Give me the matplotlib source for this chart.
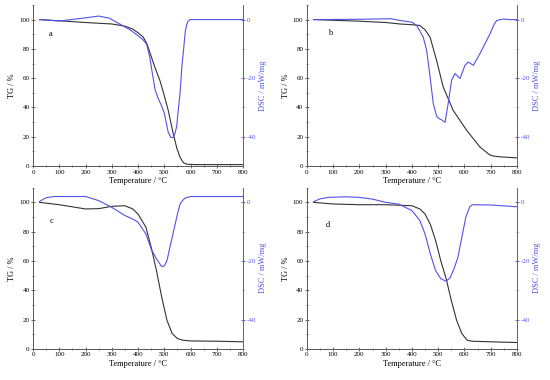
import numpy as np
import matplotlib.pyplot as plt
from matplotlib.ticker import MultipleLocator

plt.rcParams['font.family'] = ['Liberation Serif', 'DejaVu Serif']

# panel a
a_tg_t = [25, 100, 200, 300, 350, 380, 400, 420, 435, 446, 465, 484, 500, 515, 534, 548, 560,
          568, 575, 582, 590, 620, 800]
a_tg = [100, 99.2, 98, 97, 95.5, 93.5, 91, 88, 83, 77, 67, 58, 48, 38, 22, 12, 6, 3.5, 2, 1.5,
        1.2, 1, 1]
a_dsc_t = [25, 100, 200, 250, 290, 330, 370, 400, 420, 433, 445, 452, 465, 477, 490, 500, 515,
           525, 534, 540, 547, 553, 560, 567, 573, 580, 585, 590, 597, 800]
a_dsc = [0, -0.5, 0.6, 1.2, 0.5, -1.5, -3.5, -5.5, -7, -8.5, -13, -17, -24, -27, -29.5, -32, -38.5,
         -40.2, -40.3, -39, -36.5, -31, -25, -16, -10.5, -4, -1.8, -0.6, 0, 0]

# panel b
b_tg_t = [25, 200, 300, 354, 400, 430, 450, 469, 494, 519, 557, 608, 659, 697, 715, 735, 800]
b_tg = [100, 98.9, 98, 97, 96.5, 96, 93, 88, 72, 54, 38, 24.5, 13, 7.5, 6.7, 6.3, 5.6]
b_dsc_t = [25, 200, 320, 354, 400, 418, 443, 456, 469, 481, 494, 503, 513, 526, 538, 551, 564,
           583, 602, 614, 634, 659, 697, 713, 723, 748, 770, 800]
b_dsc = [0, 0.1, 0.3, -0.3, -0.9, -2, -6, -10.5, -19.5, -28.6, -33, -33.8, -34.2, -35.1, -28.6,
         -20.7, -18.4, -20.1, -15.6, -14.5, -15.6, -11.6, -4.9, -1.6, -0.3, 0.2, 0, 0]

# panel c
c_tg_t = [25, 100, 200, 250, 300, 350, 380, 400, 430, 450, 470, 490, 510, 530, 550, 570, 600,
          700, 800]
c_tg = [100, 98.4, 95.5, 95.7, 97.3, 97.7, 95.5, 92, 83, 69.4, 53.5, 35.4, 19.5, 10.4, 7, 5.9,
        5.4, 5.2, 4.8]
c_dsc_t = [25, 50, 80, 200, 250, 300, 350, 380, 400, 430, 450, 470, 490, 500, 510, 530, 550, 560,
           570, 580, 600, 800]
c_dsc = [0.3, 1.6, 2, 2, 0.6, -1.7, -4.5, -5.7, -6.8, -10.8, -15.9, -19.3, -21.9, -21.7, -19.9,
         -11.9, -4, -0.6, 0.7, 1.5, 2, 2]

# panel d
d_tg_t = [25, 100, 200, 300, 400, 430, 450, 470, 490, 510, 530, 550, 570, 590, 610, 630, 700,
          800]
d_tg = [100, 98.9, 98.4, 98.4, 97.7, 95.5, 92, 85, 74, 60, 48, 33, 19.5, 10.4, 5.9, 5.2, 4.8,
        4.3]
d_dsc_t = [25, 50, 81, 150, 200, 250, 300, 350, 400, 430, 450, 470, 490, 510, 530, 545, 560, 575,
           590, 605, 620, 630, 700, 800]
d_dsc = [0.2, 1.2, 1.7, 1.9, 1.7, 1.1, 0, -0.6, -2.8, -6.2, -10.8, -17.6, -23.3, -26.1, -26.9,
         -25.8, -22.7, -18.75, -11.9, -5.1, -1.5, -0.8, -0.9, -1.5]

panels = [
    ('a', a_tg_t, a_tg, a_dsc_t, a_dsc, (61, 89)),
    ('b', b_tg_t, b_tg, b_dsc_t, b_dsc, (79, 89.6)),
    ('c', c_tg_t, c_tg, c_dsc_t, c_dsc, (62, 86)),
    ('d', d_tg_t, d_tg, d_dsc_t, d_dsc, (71, 83.5)),
]

blue = '#5252e6'
positions = [[0.06, 0.563, 0.382, 0.424], [0.558, 0.563, 0.382, 0.424],
             [0.06, 0.082, 0.382, 0.424], [0.558, 0.082, 0.382, 0.424]]

fig = plt.figure(figsize=(5.5, 3.8), dpi=100)

for (name, tt, tg, dt, dsc, lab), pos in zip(panels, positions):
    ax = fig.add_axes(pos)
    ax2 = ax.twinx()
    ax.plot(tt, tg, color='#333333', lw=0.8)
    ax2.plot(dt, dsc, color=blue, lw=0.8)

    ax.set_xlim(0, 800)
    ax.set_ylim(0, 110)
    ax2.set_ylim(-50, 5)
    ax.xaxis.set_major_locator(MultipleLocator(100))
    ax.xaxis.set_minor_locator(MultipleLocator(50))
    ax.yaxis.set_minor_locator(MultipleLocator(10))
    ax.set_yticks([0, 20, 40, 60, 80, 100])
    ax2.yaxis.set_minor_locator(MultipleLocator(10))
    ax2.set_yticks([-40, -20, 0])
    ax2.set_yticklabels(['-40', '-20', '0'])

    for a in (ax, ax2):
        a.spines['top'].set_visible(False)
    ax.spines['right'].set_visible(False)
    ax2.spines['left'].set_visible(False)
    ax2.spines['bottom'].set_visible(False)
    ax2.spines['right'].set_color(blue)
    for s in ('left', 'bottom'):
        ax.spines[s].set_color('#555555')
        ax.spines[s].set_linewidth(0.7)
    ax2.spines['right'].set_linewidth(0.7)

    ax.tick_params(which='major', direction='inout', length=3, width=0.6, labelsize=5, pad=1,
                   color='#555555')
    ax.tick_params(which='minor', direction='inout', length=2, width=0.5, color='#555555')
    ax2.tick_params(which='major', direction='inout', length=3, width=0.6, labelsize=5, pad=1,
                    color=blue, labelcolor=blue)
    ax2.tick_params(which='minor', direction='inout', length=2, width=0.5, color=blue)

    ax.set_xlabel('Temperature / °C', fontsize=6, labelpad=2)
    ax.set_ylabel('TG / %', fontsize=6, labelpad=2)
    ax2.set_ylabel('DSC / mW/mg', fontsize=6, color=blue, labelpad=2)
    ax.text(lab[0], lab[1], name, fontsize=6)

fig.savefig('out.png', dpi=100)
